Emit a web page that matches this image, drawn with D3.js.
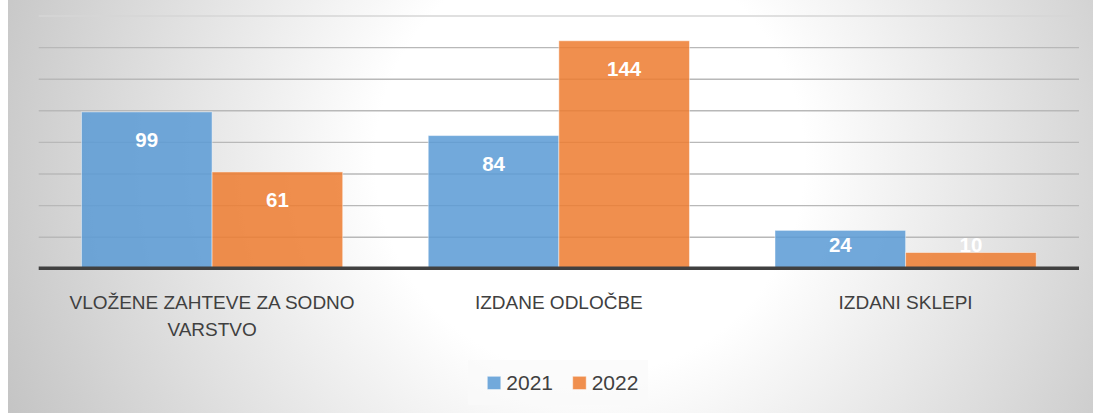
<!DOCTYPE html>
<html>
<head>
<meta charset="utf-8">
<script src="https://cdn.jsdelivr.net/npm/d3@7"></script>
<style>
  html, body { margin: 0; padding: 0; background: #ffffff; }
  svg { display: block; }
  text { font-family: "Liberation Sans", Arial, sans-serif; }
</style>
</head>
<body>
<svg id="chart" width="1093" height="413"></svg>
<script>
// Chart data
const categories = ["VLOŽENE ZAHTEVE ZA SODNO VARSTVO", "IZDANE ODLOČBE", "IZDANI SKLEPI"];
const seriesNames = ["2021", "2022"];
const values2021 = [99, 84, 24];
const values2022 = [61, 144, 10];
const yTicks = [0, 20, 40, 60, 80, 100, 120, 140, 160];

const seriesValues = [values2021, values2022];
const colors = { "2021": "#5b9bd5", "2022": "#ed7d31" };

const W = 1093, H = 413;
const plot = { left: 38.7, right: 1079, top: 15.5, bottom: 268.3 };

const svg = d3.select("#chart");
const defs = svg.append("defs");

// Radial background fill of the chart area
const grad = defs.append("radialGradient")
  .attr("id", "bg")
  .attr("gradientUnits", "userSpaceOnUse")
  .attr("cx", 590).attr("cy", 160).attr("r", 650);
grad.append("stop").attr("offset", "0").attr("stop-color", "#ffffff");
grad.append("stop").attr("offset", "0.33").attr("stop-color", "#ffffff");
grad.append("stop").attr("offset", "1").attr("stop-color", "#c2c2c2");

svg.append("rect")
  .attr("x", 8).attr("y", 0)
  .attr("width", W - 8).attr("height", H)
  .attr("fill", "url(#bg)");

// Scales
const x = d3.scaleBand()
  .domain(categories)
  .range([plot.left, plot.right])
  .paddingInner(0).paddingOuter(0);

const gapRatio = 0.655;
const barW = x.bandwidth() / (seriesNames.length + gapRatio);
const xInner = d3.scaleBand()
  .domain(seriesNames)
  .range([barW * gapRatio / 2, barW * gapRatio / 2 + barW * seriesNames.length]);

const y = d3.scaleLinear()
  .domain([0, d3.max(yTicks)])
  .range([plot.bottom, plot.top]);

// Horizontal gridlines
const grid = svg.append("g")
  .attr("transform", `translate(${plot.left},0)`)
  .call(d3.axisLeft(y)
    .tickValues(yTicks.slice(1))
    .tickSize(-(plot.right - plot.left))
    .tickFormat(""));
grid.select(".domain").remove();
grid.selectAll(".tick line")
  .attr("stroke", d => d === d3.max(yTicks) ? "#d6d6d6" : "#b8b8b8")
  .attr("stroke-width", 1.4);

// Bars
const rows = categories.map((c, i) => ({
  category: c,
  items: seriesNames.map((s, j) => ({ series: s, value: seriesValues[j][i] }))
}));

const groups = svg.append("g").selectAll("g")
  .data(rows)
  .join("g")
  .attr("transform", d => `translate(${x(d.category)},0)`);

groups.selectAll("rect")
  .data(d => d.items)
  .join("rect")
  .attr("x", d => xInner(d.series))
  .attr("y", d => y(d.value))
  .attr("width", xInner.bandwidth())
  .attr("height", d => y(0) - y(d.value))
  .attr("fill", d => colors[d.series])
  .attr("fill-opacity", 0.86)
  .attr("stroke", "#ffffff")
  .attr("stroke-opacity", 0.45)
  .attr("stroke-width", 1);

// Value labels, near the top inside each bar
groups.selectAll("text.value")
  .data(d => d.items)
  .join("text")
  .attr("class", "value")
  .attr("x", d => xInner(d.series) + xInner.bandwidth() / 2)
  .attr("y", d => Math.min(y(d.value) + 28, y(0) - 24) + 7.3)
  .attr("text-anchor", "middle")
  .attr("fill", "#ffffff")
  .attr("font-weight", "bold")
  .attr("font-size", 20.5)
  .text(d => d.value);

// Baseline
svg.append("line")
  .attr("x1", plot.left).attr("x2", plot.right)
  .attr("y1", y(0)).attr("y2", y(0))
  .attr("stroke", "#404040")
  .attr("stroke-width", 3.5);

// Category labels (wrapped)
const maxLabelW = x.bandwidth() * 0.9;
const lineH = 27.6;
categories.forEach(c => {
  const t = svg.append("text")
    .attr("x", x(c) + x.bandwidth() / 2)
    .attr("y", 308.5)
    .attr("text-anchor", "middle")
    .attr("fill", "#404040")
    .attr("font-size", 19);
  const words = c.split(" ");
  let line = [];
  let tspan = t.append("tspan").attr("x", x(c) + x.bandwidth() / 2).attr("dy", 0);
  words.forEach(w => {
    line.push(w);
    tspan.text(line.join(" "));
    if (tspan.node().getComputedTextLength() > maxLabelW && line.length > 1) {
      line.pop();
      tspan.text(line.join(" "));
      line = [w];
      tspan = t.append("tspan")
        .attr("x", x(c) + x.bandwidth() / 2)
        .attr("dy", lineH)
        .text(w);
    }
  });
});

// Legend
const legend = svg.append("g");
legend.append("rect")
  .attr("x", 468).attr("y", 360)
  .attr("width", 180).attr("height", 45)
  .attr("fill", "#fafafa")
  .attr("fill-opacity", 0.7);

const legendX = [487.3, 572.7];
seriesNames.forEach((s, i) => {
  legend.append("rect")
    .attr("x", legendX[i]).attr("y", 376.3)
    .attr("width", 13.5).attr("height", 13.2)
    .attr("fill", colors[s])
    .attr("fill-opacity", 0.86)
    .attr("stroke", "#ffffff")
    .attr("stroke-opacity", 0.45);
  legend.append("text")
    .attr("x", legendX[i] + 19)
    .attr("y", 389.8)
    .attr("fill", "#404040")
    .attr("font-size", 21)
    .text(s);
});
</script>
</body>
</html>
